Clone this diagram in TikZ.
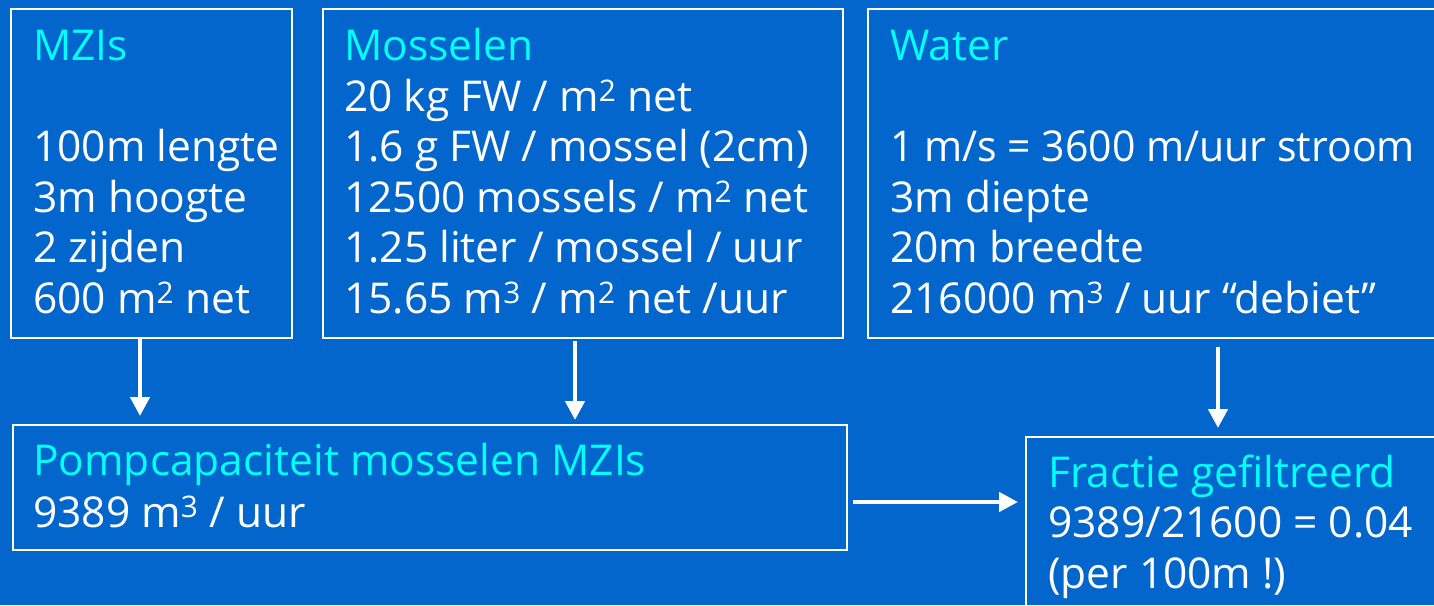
\documentclass[tikz,border=0pt]{standalone}
\usepackage{fontspec}
\setmainfont{Open Sans}
\usetikzlibrary{arrows.meta,calc}
\definecolor{bg}{RGB}{3,102,204}
\definecolor{ttl}{RGB}{0,255,255}
\begin{document}
\begin{tikzpicture}[x=1pt,y=-1pt,
  box/.style={draw=white,line width=2pt,inner sep=0pt,anchor=north west},
  txt/.style={anchor=base west,inner sep=0pt,text=white,align=left,
    font=\fontsize{42.5}{50.5}\selectfont},
  arr/.style={draw=white,line width=4.5pt,-{Triangle[length=19pt,width=19pt]}}]
\fill[bg] (0,0) rectangle (1434,605);
\useasboundingbox (0,0) rectangle (1434,605);
\clip (0,0) rectangle (1434,605);
% boxes
\node[box,minimum width=281pt,minimum height=329pt] (mzi) at (10,8) {};
\node[box,minimum width=520pt,minimum height=329pt] (mos) at (322,8) {};
\node[box,minimum width=580pt,minimum height=329pt] (wat) at (867,8) {};
\node[box,minimum width=834pt,minimum height=125pt] (pomp) at (12,424) {};
\node[box,minimum width=420pt,minimum height=180pt] (frac) at (1025,436) {};
% texts (anchored at the baseline of their last line)
\node[txt] (tmzi) at (33,313) {\textcolor{ttl}{MZIs}\\ ~\\ 100m lengte\\ 3m hoogte\\ 2 zijden\\ 600 m\textsuperscript{2} net};
\node[txt] (tmos) at (344,313) {\textcolor{ttl}{Mosselen}\\ 20 kg FW / m\textsuperscript{2} net\\ 1.6 g FW / mossel (2cm)\\ 12500 mossels / m\textsuperscript{2} net\\ 1.25 liter / mossel / uur\\ 15.65 m\textsuperscript{3} / m\textsuperscript{2} net /uur};
\node[txt] (twat) at (890,313) {\textcolor{ttl}{Water}\\ ~\\ \scalebox{0.965}[1]{1 m/s = 3600 m/uur stroom}\\ 3m diepte\\ 20m breedte\\ 216000 m\textsuperscript{3} / uur “debiet”};
\node[txt,font=\fontsize{42.5}{52}\selectfont] (tpomp) at (33,527) {\textcolor{ttl}{Pompcapaciteit mosselen MZIs}\\ 9389 m\textsuperscript{3} / uur};
\node[txt] (tfrac) at (1048,588) {\textcolor{ttl}{Fractie gefiltreerd}\\ 9389/21600 = 0.04\\ (per 100m !)};
% arrows
\draw[arr] (mzi.south -| 140,0) -- ([yshift=8pt]pomp.north -| 140,0);
\draw[arr] ([yshift=-2pt]mos.south -| 575,0) -- ([yshift=4pt]pomp.north -| 575,0);
\draw[arr] ([yshift=-8pt]wat.south -| 1218,0) -- ([yshift=8pt]frac.north -| 1218,0);
\draw[arr] ([xshift=5pt]pomp.east |- 0,502) -- ([xshift=-7pt]frac.west |- 0,502);
\end{tikzpicture}
\end{document}
